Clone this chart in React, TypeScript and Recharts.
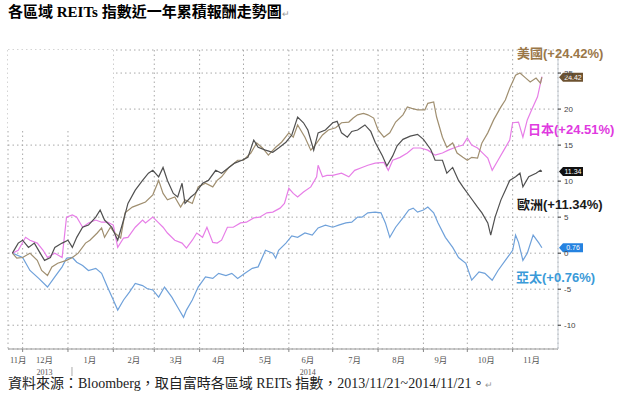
import React from 'react';
import { LineChart, Line, XAxis, YAxis, CartesianGrid, ReferenceDot, ReferenceArea } from 'recharts';

// days counted from 2013/11/21, values = cumulative return in %
const asiaDays = [3, 10, 15, 21, 27, 32, 37, 40, 44, 47, 51, 55, 60, 64, 68, 72, 75, 79, 83, 87, 92, 95, 99, 103, 107, 112, 116, 120, 122, 126, 130, 135, 140, 144, 149, 153, 157, 162, 167, 171, 176, 181, 183, 185, 190, 194, 198, 203, 208, 212, 217, 222, 226, 231, 235, 239, 242, 246, 251, 255, 258, 261, 265, 270, 274, 277, 280, 284, 287, 291, 294, 299, 304, 308, 313, 317, 322, 326, 331, 335, 340, 345, 347, 349, 352, 355, 359, 363, 365];
const asiaReturns = [0, -0.6, -2.4, -3.5, -4.7, -3.3, -1.9, -0.7, -0.6, -1.25, -1.7, -2.4, -2.1, -2.8, -4.7, -6.5, -7.9, -6.5, -5.4, -4.2, -4.5, -4.9, -5.1, -6.1, -4.7, -6.1, -7.5, -8.9, -7.9, -6.5, -4.7, -3.3, -3.5, -2.8, -3.1, -2.8, -3.5, -2.8, -2.1, -1.9, 0.4, 0, -0.7, 0.4, 1.4, 2.4, 2.2, 2.8, 2.5, 3.5, 3.9, 3.6, 3.9, 4.2, 4.3, 5.0, 5.0, 5.6, 5.7, 5.6, 4.2, 2.2, 3.6, 4.9, 6.0, 6.25, 5.7, 6.0, 6.4, 5.6, 4.2, 2.2, 0.8, -0.6, -1.4, -3.75, -2.6, -2.8, -3.75, -2.4, -1.0, 0.4, 2.5, 1.5, -1.0, 0, 2.5, 1.4, 0.76];

const euDays = [3, 7, 10, 14, 18, 22, 25, 29, 32, 37, 41, 44, 47, 51, 55, 60, 63, 66, 71, 75, 79, 82, 87, 92, 96, 99, 103, 106, 109, 113, 116, 119, 121, 125, 128, 133, 137, 142, 146, 151, 155, 160, 164, 168, 171, 176, 181, 185, 190, 194, 198, 202, 205, 209, 212, 217, 222, 225, 228, 232, 235, 239, 244, 248, 251, 256, 259, 263, 266, 270, 275, 280, 284, 289, 292, 297, 300, 304, 308, 311, 316, 321, 324, 328, 330, 333, 337, 340, 343, 347, 350, 352, 356, 361, 364, 365];
const euReturns = [0, 1.4, 1.8, 0.8, 1.4, 0, -1.0, -0.6, 0.8, 1.4, 1.8, 0.8, 2.2, 3.6, 3.9, 5.0, 6.0, 4.6, 3.6, 1.8, 4.6, 6.9, 8.75, 10.1, 11.1, 11.5, 10.6, 11.9, 10.1, 8.3, 7.8, 9.7, 6.9, 7.8, 8.3, 9.7, 10.1, 11.5, 11.1, 11.9, 12.5, 12.9, 13.3, 15.7, 14.7, 14.3, 14.0, 14.6, 15.4, 16.4, 18.9, 18.1, 17.1, 14.3, 16.7, 17.1, 18.1, 18.3, 16.7, 16.1, 16.9, 17.1, 17.8, 16.9, 15.4, 13.5, 12.1, 13.5, 14.9, 15.8, 16.25, 16.5, 15.8, 14.4, 12.9, 12.9, 11.1, 11.9, 10.1, 9.2, 7.8, 6.4, 5.6, 4.2, 2.5, 5.0, 7.4, 8.75, 10.1, 10.6, 11.1, 9.2, 10.6, 11.1, 11.5, 11.34];

const usDays = [3, 6, 10, 15, 20, 23, 27, 30, 34, 40, 44, 48, 53, 56, 61, 64, 66, 70, 73, 77, 80, 85, 89, 94, 99, 103, 106, 109, 114, 118, 121, 126, 130, 135, 140, 143, 146, 151, 157, 161, 166, 170, 174, 178, 183, 187, 192, 195, 198, 203, 207, 210, 215, 219, 224, 228, 233, 236, 239, 243, 246, 250, 253, 257, 261, 265, 270, 273, 276, 280, 285, 287, 291, 293, 297, 300, 304, 307, 311, 314, 317, 321, 324, 328, 332, 337, 340, 343, 347, 350, 354, 357, 361, 364, 365];
const usReturns = [0, -0.7, -0.6, 0, -1.0, -2.4, -3.1, -1.9, -1.4, -1.0, -0.6, 0, 1.4, 1.8, 2.8, 3.5, 2.2, 3.6, 2.8, 2.1, 5.6, 6.4, 6.7, 7.1, 8.1, 10.1, 8.3, 7.4, 7.8, 6.4, 7.4, 6.9, 9.2, 9.7, 9.2, 10.1, 10.6, 11.9, 12.9, 12.9, 13.9, 15.3, 14.6, 13.6, 14.7, 15.4, 16.7, 16.1, 17.8, 16.1, 14.3, 15.0, 16.4, 17.1, 17.4, 18.1, 18.2, 18.75, 19.2, 19.4, 19.2, 18.75, 17.1, 16.1, 16.7, 18.2, 19.2, 20.3, 20.1, 19.9, 19.9, 20.8, 21.0, 18.9, 16.1, 14.7, 15.3, 13.9, 13.3, 12.9, 13.3, 13.2, 15.3, 16.7, 18.5, 20.3, 21.25, 22.9, 24.7, 25.0, 24.3, 23.75, 24.3, 23.6, 24.42];

const jpDays = [3, 7, 12, 15, 20, 24, 27, 32, 37, 40, 44, 47, 51, 55, 60, 64, 68, 72, 75, 79, 82, 87, 92, 94, 99, 103, 106, 109, 114, 119, 122, 126, 129, 133, 136, 140, 143, 146, 150, 154, 159, 163, 168, 172, 177, 181, 186, 189, 192, 195, 198, 202, 207, 211, 212, 215, 218, 222, 228, 233, 237, 242, 246, 251, 257, 260, 263, 268, 273, 277, 282, 287, 292, 297, 301, 306, 311, 314, 317, 321, 324, 328, 331, 335, 339, 343, 345, 349, 352, 355, 358, 362, 365];
const jpReturns = [0, 0.4, 2.2, 1.8, 1.4, 0.4, -0.6, 0, -0.6, 5.0, 5.3, 5.0, 3.6, 4.2, 4.6, 4.3, 4.3, 3.9, 0.8, 2.1, 2.2, 3.6, 4.6, 4.2, 5.0, 4.2, 3.6, 2.8, 1.8, 1.4, 0.7, 1.8, 2.8, 2.2, 3.6, 1.5, 1.4, 1.8, 3.6, 3.6, 4.2, 4.3, 4.9, 5.0, 5.6, 5.7, 6.25, 6.9, 9.0, 8.3, 7.8, 8.5, 9.2, 10.6, 12.2, 10.6, 10.8, 10.8, 11.1, 10.6, 11.5, 11.9, 12.2, 12.5, 12.6, 11.5, 12.9, 13.3, 13.9, 14.6, 14.6, 14.3, 13.6, 13.9, 14.3, 14.7, 15.0, 16.0, 15.0, 14.6, 14.0, 13.2, 11.5, 12.9, 14.3, 15.7, 18.1, 18.2, 16.1, 18.5, 19.9, 21.7, 24.51];

const monthStartDays = [10, 41, 72, 100, 131, 161, 192, 222, 253, 284, 314, 345];
const monthLabelDays = [7, 25, 56, 86, 115, 144, 176, 205, 237, 267, 296, 327, 358];
const monthLabels = ['11月', '12月', '1月', '2月', '3月', '4月', '5月', '6月', '7月', '8月', '9月', '10月', '11月'];
const yearLabels = ['', '2013', '', '', '', '', '', '2014', '', '', '', '', ''];
const yTicks = [-10, -5, 0, 5, 10, 15, 20, 25];

const SERIF = '"Liberation Serif", "Noto Sans CJK TC", serif';
const SANS = '"Liberation Sans", "Noto Sans CJK TC", sans-serif';

const toPoints = (days: number[], vals: number[]) => days.map((d, i) => ({ d, v: vals[i] }));
const last = (a: number[]) => a[a.length - 1];

const series = [
  { key: 'ap', name: '亞太', data: toPoints(asiaDays, asiaReturns), line: '#6fa1da', label: '#3b9ad8', tag: '#2582e0', final: last(asiaReturns), top: 270, left: 516 },
  { key: 'jp', name: '日本', data: toPoints(jpDays, jpReturns), line: '#e77ee7', label: '#e03ae0', tag: '', final: last(jpReturns), top: 122, left: 528 },
  { key: 'us', name: '美國', data: toPoints(usDays, usReturns), line: '#a08f70', label: '#9a7748', tag: '#6d5230', final: last(usReturns), top: 46, left: 517 },
  { key: 'eu', name: '歐洲', data: toPoints(euDays, euReturns), line: '#505050', label: '#1a1a1a', tag: '#111111', final: last(euReturns), top: 197, left: 517 },
];

const MonthTick = (props: any) => {
  const { x, y, payload } = props;
  const i = monthLabelDays.indexOf(payload.value);
  return (
    <g>
      <text x={x} y={y + 7} textAnchor="middle" fontSize={8.5} fill="#555" fontFamily={SERIF}>
        {monthLabels[i]}
      </text>
      {yearLabels[i] && (
        <text x={x} y={y + 19} textAnchor="middle" fontSize={8} fill="#555" fontFamily={SERIF}>
          {yearLabels[i]}
        </text>
      )}
    </g>
  );
};

// only draws the small separator under the Jan 1 boundary
const BoundaryTick = (props: any) => {
  const { x, y, payload } = props;
  if (payload.value !== 41) return <g />;
  return <line x1={x + 4} x2={x + 4} y1={y + 13} y2={y + 22} stroke="#aaa" />;
};

const makeTag = (fill: string, text: string) => (p: any) => (
  <g>
    <path d={`M${p.cx + 1},${p.cy} l4,-4.5 h20 v9 h-20 z`} fill={fill} />
    <text x={p.cx + 15} y={p.cy + 2.6} fontSize={7} fill="#fff" textAnchor="middle" fontFamily={SANS}>
      {text}
    </text>
  </g>
);

export default function App() {
  return (
    <div style={{ position: 'absolute', left: 0, top: 0, width: 620, height: 394, background: '#fff', overflow: 'hidden' }}>
      <div style={{ position: 'absolute', left: 8, top: 3, fontFamily: SERIF, fontWeight: 'bold', fontSize: 15, lineHeight: '18px', color: '#000', whiteSpace: 'nowrap' }}>
        各區域 REITs 指數近一年累積報酬走勢圖<span style={{ fontWeight: 'normal', fontSize: 9, color: '#999' }}>↵</span>
      </div>

      <div style={{ position: 'absolute', left: 0, top: 0 }}>
        <LineChart width={620} height={394} margin={{ top: 50, right: 0, bottom: 0, left: 8 }}>
          <CartesianGrid stroke="#a8a8a8" strokeDasharray="1.5 3" fill="none" />
          <XAxis
            dataKey="d"
            type="number"
            domain={[0, 376]}
            ticks={monthStartDays}
            interval={0}
            height={5}
            tickSize={3}
            tick={BoundaryTick}
            axisLine={{ stroke: '#999' }}
            tickLine={{ stroke: '#888' }}
            allowDataOverflow
          />
          <XAxis
            xAxisId="lab"
            dataKey="d"
            type="number"
            domain={[0, 376]}
            ticks={monthLabelDays}
            interval={0}
            height={40}
            tickSize={0}
            tick={MonthTick}
            axisLine={false}
            tickLine={false}
            allowDataOverflow
          />
          <YAxis
            orientation="right"
            type="number"
            domain={[-13.3, 28.2]}
            ticks={yTicks}
            interval={0}
            width={62}
            tickSize={3}
            tickMargin={3}
            axisLine={{ stroke: '#c5ccd4' }}
            tickLine={{ stroke: '#333' }}
            tick={{ fontSize: 8, fill: '#444', fontFamily: SANS, textAnchor: 'start' }}
            allowDataOverflow
          />
          <ReferenceArea x1={0} x2={72} y1={17.2} y2={28.2} fill="#fff" fillOpacity={1} stroke="none" ifOverflow="visible" />
          {series.map(s => (
            <Line
              key={s.key}
              data={s.data}
              dataKey="v"
              type="linear"
              stroke={s.line}
              strokeWidth={1.2}
              dot={false}
              isAnimationActive={false}
            />
          ))}
          {series.filter(s => s.tag).map(s => (
            <ReferenceDot
              key={'tag-' + s.key}
              x={376}
              y={s.final}
              r={0}
              ifOverflow="visible"
              shape={makeTag(s.tag, s.final.toFixed(2))}
            />
          ))}
        </LineChart>
      </div>

      {series.map(s => (
        <div
          key={'lbl-' + s.key}
          style={{ position: 'absolute', left: s.left, top: s.top, fontFamily: SANS, fontWeight: 'bold', fontSize: 13, lineHeight: '15px', color: s.label, whiteSpace: 'nowrap' }}
        >
          {s.name}(+{s.final.toFixed(2)}%)
        </div>
      ))}

      <div style={{ position: 'absolute', left: 8, top: 376, fontFamily: SERIF, fontSize: 14, lineHeight: '16px', color: '#222', whiteSpace: 'nowrap' }}>
        資料來源：Bloomberg，取自富時各區域 REITs 指數，2013/11/21~2014/11/21。<span style={{ fontSize: 9, color: '#999' }}>↵</span>
      </div>
    </div>
  );
}
